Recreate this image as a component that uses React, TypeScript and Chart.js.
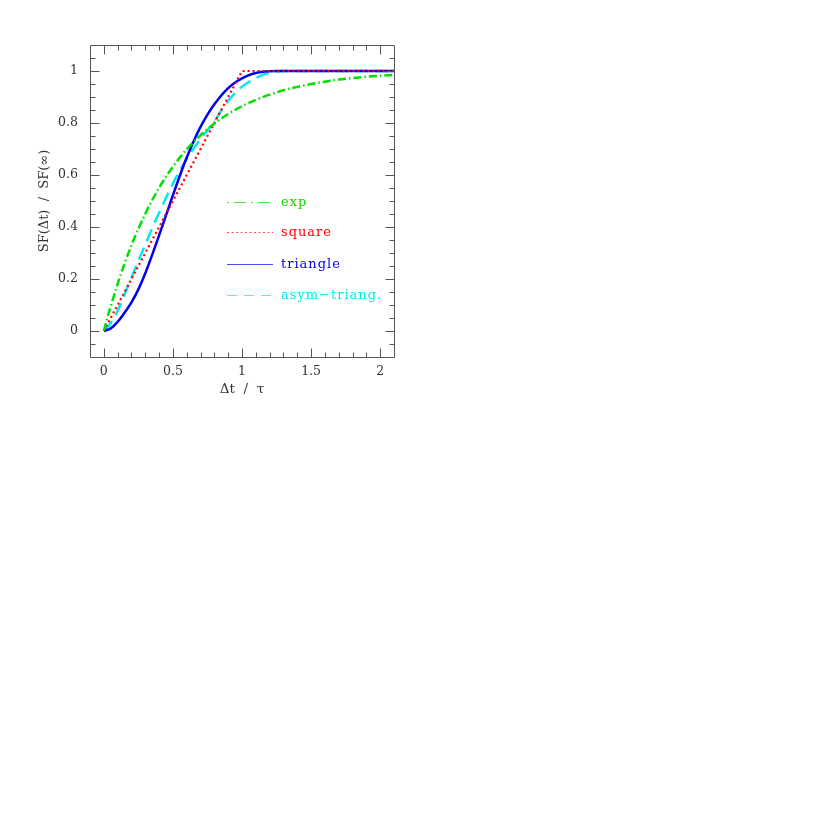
import React, { useEffect, useRef } from "react";
import { Chart, registerables } from "chart.js";

Chart.register(...registerables);

// ---- data ----
const expX = [0, 0.02, 0.05, 0.1, 0.15, 0.2, 0.25, 0.3, 0.35, 0.4, 0.5, 0.6, 0.7, 0.8, 0.9, 1.0, 1.1, 1.2, 1.3, 1.4, 1.5, 1.6, 1.7, 1.8, 1.9, 2.0, 2.1];
const expY = [0, 0.04, 0.095, 0.181, 0.259, 0.33, 0.393, 0.451, 0.503, 0.551, 0.632, 0.699, 0.753, 0.798, 0.835, 0.865, 0.889, 0.909, 0.926, 0.939, 0.95, 0.959, 0.967, 0.973, 0.978, 0.982, 0.985];

const squareX = [0, 1, 2.1];
const squareY = [0, 1, 1];

const triX = [0, 0.05, 0.1, 0.15, 0.2, 0.25, 0.3, 0.35, 0.4, 0.45, 0.5, 0.55, 0.6, 0.65, 0.7, 0.75, 0.8, 0.85, 0.9, 0.95, 1.0, 1.05, 1.1, 1.15, 1.2, 1.25, 1.5, 2.1];
const triY = [0, 0.01, 0.035, 0.07, 0.11, 0.16, 0.222, 0.293, 0.368, 0.445, 0.522, 0.597, 0.667, 0.73, 0.785, 0.832, 0.872, 0.906, 0.934, 0.956, 0.972, 0.984, 0.992, 0.997, 0.999, 1, 1, 1];

const asymX = [0, 0.05, 0.1, 0.15, 0.2, 0.25, 0.3, 0.35, 0.4, 0.45, 0.5, 0.55, 0.6, 0.65, 0.7, 0.75, 0.8, 0.85, 0.9, 0.95, 1.0, 1.05, 1.1, 1.15, 1.2, 1.25, 1.3, 2.1];
const asymY = [0, 0.03, 0.078, 0.14, 0.205, 0.27, 0.333, 0.395, 0.455, 0.512, 0.567, 0.617, 0.662, 0.702, 0.738, 0.772, 0.806, 0.848, 0.885, 0.915, 0.94, 0.958, 0.973, 0.985, 0.993, 0.998, 1, 1];

const seriesLabels = ["exp", "square", "triangle", "asym\u2212triang."];
const xTickValues = [0, 0.5, 1, 1.5, 2];
const yTickValues = [0, 0.2, 0.4, 0.6, 0.8, 1];
const xMinorTicks = [-0.1, 0, 0.1, 0.2, 0.3, 0.4, 0.5, 0.6, 0.7, 0.8, 0.9, 1, 1.1, 1.2, 1.3, 1.4, 1.5, 1.6, 1.7, 1.8, 1.9, 2, 2.1];
const yMinorTicks = [-0.1, -0.05, 0, 0.05, 0.1, 0.15, 0.2, 0.25, 0.3, 0.35, 0.4, 0.45, 0.5, 0.55, 0.6, 0.65, 0.7, 0.75, 0.8, 0.85, 0.9, 0.95, 1, 1.05, 1.1];

// ---- styles ----
const GREEN = "#00e000";
const RED = "#ff0000";
const BLUE = "#0000ee";
const CYAN = "#00e8f0";
const colors = [GREEN, RED, BLUE, CYAN];
const dashes = [[8, 3, 1.5, 3], [2, 3], [], [13, 7]];
const legendDashes = [[2, 5, 12, 5], [2, 2.5], [], [10, 7]];
const FONT = "'DejaVu Serif', 'Liberation Serif', serif";

const pts = (xs: number[], ys: number[]) => xs.map((x, i) => ({ x, y: ys[i] }));

const framePlugin = {
  id: "frameTicks",
  afterDatasetsDraw(chart: any) {
    const { ctx, chartArea: a, scales } = chart;
    const xs = scales.x;
    const ys = scales.y;
    ctx.save();
    ctx.strokeStyle = "#555";
    ctx.lineWidth = 1;
    ctx.setLineDash([]);
    const L = Math.round(a.left) + 0.5;
    const R = Math.round(a.right) + 0.5;
    const T = Math.round(a.top) + 0.5;
    const B = Math.round(a.bottom) + 0.5;
    ctx.beginPath();
    ctx.rect(L, T, R - L, B - T);
    ctx.stroke();
    ctx.beginPath();
    xMinorTicks.forEach((v) => {
      const px = Math.round(xs.getPixelForValue(v)) + 0.5;
      if (px <= L || px >= R) return;
      const major = xTickValues.includes(v);
      const len = major ? 9 : 5;
      ctx.moveTo(px, B);
      ctx.lineTo(px, B - len);
      ctx.moveTo(px, T);
      ctx.lineTo(px, T + len);
    });
    yMinorTicks.forEach((v) => {
      const py = Math.round(ys.getPixelForValue(v)) + 0.5;
      if (py <= T || py >= B) return;
      const major = yTickValues.includes(v);
      const len = major ? 9 : 5;
      ctx.moveTo(L, py);
      ctx.lineTo(L + len, py);
      ctx.moveTo(R, py);
      ctx.lineTo(R - len, py);
    });
    ctx.stroke();

    // legend
    const lineY = [156.5, 186.5, 218.5, 250];
    ctx.font = `13px ${FONT}`;
    ctx.textAlign = "left";
    ctx.textBaseline = "alphabetic";
    try {
      (ctx as any).letterSpacing = "1px";
    } catch (e) {}
    seriesLabels.forEach((lab, i) => {
      const y = Math.round(a.top + lineY[i]) + 0.5;
      ctx.strokeStyle = colors[i];
      ctx.globalAlpha = 0.7;
      ctx.lineWidth = 1;
      ctx.setLineDash(legendDashes[i]);
      ctx.beginPath();
      ctx.moveTo(a.left + 137, y);
      ctx.lineTo(a.left + 183, y);
      ctx.stroke();
      ctx.globalAlpha = 1;
      ctx.fillStyle = colors[i];
      ctx.fillText(lab, a.left + 191, y + 3);
    });
    try {
      (ctx as any).letterSpacing = "0px";
    } catch (e) {}
    ctx.restore();
  },
};

export default function App() {
  const ref = useRef<HTMLCanvasElement | null>(null);
  useEffect(() => {
    if (!ref.current) return;
    const mk = (i: number, xs: number[], ys: number[], extra: any = {}) => ({
      label: seriesLabels[i],
      data: pts(xs, ys),
      borderColor: colors[i],
      backgroundColor: colors[i],
      borderWidth: 2.5,
      borderDash: dashes[i],
      borderCapStyle: "butt",
      pointRadius: 0,
      fill: false,
      ...extra,
    });
    const chart = new Chart(ref.current, {
      type: "line",
      data: {
        datasets: [
          mk(0, expX, expY, { cubicInterpolationMode: "monotone" }),
          mk(1, squareX, squareY, { tension: 0, borderWidth: 2.2 }),
          mk(2, triX, triY, { cubicInterpolationMode: "monotone" }),
          mk(3, asymX, asymY, { cubicInterpolationMode: "monotone" }),
        ],
      },
      options: {
        responsive: false,
        animation: false,
        events: [],
        layout: { padding: { left: 0, top: 37, right: 34, bottom: 0 } },
        plugins: { legend: { display: false }, tooltip: { enabled: false } },
        scales: {
          x: {
            type: "linear",
            min: -0.1,
            max: 2.1,
            grid: { display: false, drawTicks: false },
            border: { display: false },
            afterBuildTicks: (s: any) => {
              s.ticks = xTickValues.map((v) => ({ value: v }));
            },
            afterFit: (s: any) => {
              s.height = 71;
            },
            ticks: {
              padding: 7,
              autoSkip: false,
              maxRotation: 0,
              color: "#333",
              font: { family: FONT, size: 12.5 },
              callback: (v: any) => String(v),
            },
            title: {
              display: true,
              text: "\u0394t  /  \u03c4",
              color: "#333",
              font: { family: FONT, size: 13.5 },
              padding: { top: 0, bottom: 30 },
            },
          },
          y: {
            type: "linear",
            min: -0.1,
            max: 1.1,
            grid: { display: false, drawTicks: false },
            border: { display: false },
            afterBuildTicks: (s: any) => {
              s.ticks = yTickValues.map((v) => ({ value: v }));
            },
            afterFit: (s: any) => {
              s.width = 82;
            },
            ticks: {
              padding: 12,
              autoSkip: false,
              color: "#333",
              font: { family: FONT, size: 12.5 },
              callback: (v: any) => String(v),
            },
            title: {
              display: true,
              text: "SF(\u0394t)  /  SF(\u221e)",
              color: "#333",
              font: { family: FONT, size: 13 },
              padding: { top: 29, bottom: 0 },
            },
          },
        },
      },
      plugins: [framePlugin],
    } as any);
    return () => chart.destroy();
  }, []);
  return (
    <div style={{ width: 420, height: 420 }}>
      <canvas ref={ref} width={420} height={420} style={{ display: "block" }} />
    </div>
  );
}
